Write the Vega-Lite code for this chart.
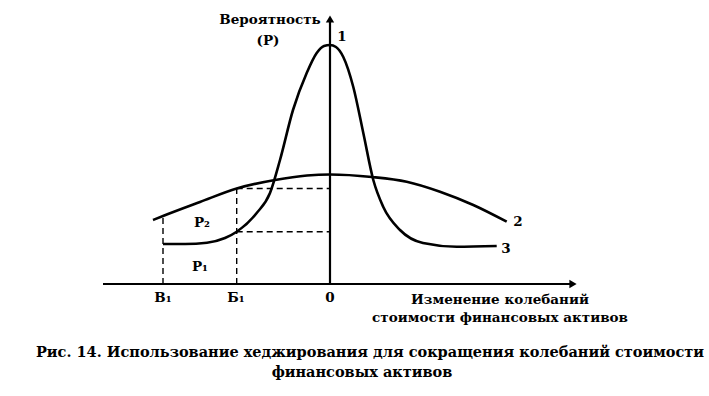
{
  "$schema": "https://vega.github.io/schema/vega-lite/v6.json",
  "width": 709,
  "height": 396,
  "autosize": {"type": "fit", "contains": "padding"},
  "padding": 0,
  "background": "white",
  "config": {"view": {"stroke": null}},
  "datasets": {
    "curves": [
      {"curve": "2", "x": -17.7, "y": 6.4},
      {"curve": "2", "x": -16.7, "y": 6.8},
      {"curve": "2", "x": -13, "y": 8.2},
      {"curve": "2", "x": -9.33, "y": 9.55},
      {"curve": "2", "x": -5.5, "y": 10.4},
      {"curve": "2", "x": -2.3, "y": 10.85},
      {"curve": "2", "x": 0, "y": 10.95},
      {"curve": "2", "x": 4.2, "y": 10.7},
      {"curve": "2", "x": 7.67, "y": 10.23},
      {"curve": "2", "x": 11, "y": 9.23},
      {"curve": "2", "x": 14.33, "y": 7.9},
      {"curve": "2", "x": 17.67, "y": 6.23},
      {"curve": "3", "x": -16.7, "y": 4.0},
      {"curve": "3", "x": -14.5, "y": 4.0},
      {"curve": "3", "x": -12.3, "y": 4.13},
      {"curve": "3", "x": -10.5, "y": 4.6},
      {"curve": "3", "x": -9.33, "y": 5.23},
      {"curve": "3", "x": -7.33, "y": 7.1},
      {"curve": "3", "x": -6, "y": 9.1},
      {"curve": "3", "x": -5, "y": 12.4},
      {"curve": "3", "x": -3.7, "y": 17.4},
      {"curve": "3", "x": -2.33, "y": 21.1},
      {"curve": "3", "x": -1.33, "y": 23.1},
      {"curve": "3", "x": -0.6, "y": 23.8},
      {"curve": "3", "x": 0, "y": 23.9},
      {"curve": "3", "x": 0.6, "y": 23.7},
      {"curve": "3", "x": 1.33, "y": 22.7},
      {"curve": "3", "x": 2.33, "y": 19.7},
      {"curve": "3", "x": 3.33, "y": 15.1},
      {"curve": "3", "x": 4.33, "y": 10.4},
      {"curve": "3", "x": 5.33, "y": 7.7},
      {"curve": "3", "x": 7, "y": 5.4},
      {"curve": "3", "x": 9.3, "y": 4.1},
      {"curve": "3", "x": 12.67, "y": 3.73},
      {"curve": "3", "x": 16.67, "y": 3.8}
    ],
    "axes": [
      {"x": -22.7, "x2": 24.0, "y": 0, "y2": 0},
      {"x": 0, "x2": 0, "y": 0, "y2": 26.2}
    ],
    "guides": [
      {"x": -16.7, "x2": -16.7, "y": 0, "y2": 6.8},
      {"x": -9.33, "x2": -9.33, "y": 0, "y2": 9.55},
      {"x": -9.33, "x2": 0, "y": 9.55, "y2": 9.55},
      {"x": -9.33, "x2": 0, "y": 5.23, "y2": 5.23}
    ],
    "arrowsRight": [{"x": 24.3, "y": 0}],
    "arrowsUp": [{"x": 0, "y": 26.5}],
    "labels": [
      {"text": "Вероятность", "x": -6, "y": 26.4},
      {"text": "(Р)", "x": -6.2, "y": 24.3},
      {"text": "1", "x": 1.2, "y": 24.7},
      {"text": "2", "x": 18.8, "y": 6.2},
      {"text": "3", "x": 17.6, "y": 3.5},
      {"text": "P₂", "x": -12.8, "y": 6.1},
      {"text": "P₁", "x": -13.0, "y": 1.7},
      {"text": "В₁", "x": -16.7, "y": -1.4},
      {"text": "Б₁", "x": -9.4, "y": -1.4},
      {"text": "0", "x": 0, "y": -1.4},
      {"text": "Изменение колебаний", "x": 17.0, "y": -1.6},
      {"text": "стоимости финансовых активов", "x": 17.0, "y": -3.4}
    ],
    "caption": [
      {"text": "Рис. 14. Использование хеджирования для сокращения колебаний стоимости", "x": 4.0, "y": -6.9},
      {"text": "финансовых активов", "x": 3.2, "y": -8.9}
    ]
  },
  "layer": [
    {
      "data": {"name": "axes"},
      "mark": {"type": "rule", "color": "black", "strokeWidth": 2.2},
      "encoding": {
        "x": {"field": "x", "type": "quantitative", "scale": {"domain": [-33, 37.9], "nice": false, "zero": false}, "axis": null},
        "x2": {"field": "x2"},
        "y": {"field": "y", "type": "quantitative", "scale": {"domain": [-11.2, 28.4], "nice": false, "zero": false}, "axis": null},
        "y2": {"field": "y2"}
      }
    },
    {
      "data": {"name": "guides"},
      "mark": {"type": "rule", "color": "black", "strokeWidth": 1.4, "strokeDash": [6, 4]},
      "encoding": {
        "x": {"field": "x", "type": "quantitative"},
        "x2": {"field": "x2"},
        "y": {"field": "y", "type": "quantitative"},
        "y2": {"field": "y2"}
      }
    },
    {
      "data": {"name": "curves"},
      "mark": {"type": "line", "color": "black", "strokeWidth": 2.6, "interpolate": "monotone"},
      "encoding": {
        "x": {"field": "x", "type": "quantitative"},
        "y": {"field": "y", "type": "quantitative"},
        "detail": {"field": "curve"}
      }
    },
    {
      "data": {"name": "arrowsRight"},
      "mark": {"type": "point", "shape": "triangle-right", "filled": true, "color": "black", "size": 70, "opacity": 1},
      "encoding": {
        "x": {"field": "x", "type": "quantitative"},
        "y": {"field": "y", "type": "quantitative"}
      }
    },
    {
      "data": {"name": "arrowsUp"},
      "mark": {"type": "point", "shape": "triangle-up", "filled": true, "color": "black", "size": 70, "opacity": 1},
      "encoding": {
        "x": {"field": "x", "type": "quantitative"},
        "y": {"field": "y", "type": "quantitative"}
      }
    },
    {
      "data": {"name": "labels"},
      "mark": {"type": "text", "font": "DejaVu Serif", "fontWeight": "bold", "fontSize": 13.5, "color": "black", "align": "center", "baseline": "middle"},
      "encoding": {
        "x": {"field": "x", "type": "quantitative"},
        "y": {"field": "y", "type": "quantitative"},
        "text": {"field": "text"}
      }
    },
    {
      "data": {"name": "caption"},
      "mark": {"type": "text", "font": "DejaVu Serif", "fontWeight": "bold", "fontSize": 14.5, "color": "black", "align": "center", "baseline": "middle"},
      "encoding": {
        "x": {"field": "x", "type": "quantitative"},
        "y": {"field": "y", "type": "quantitative"},
        "text": {"field": "text"}
      }
    }
  ]
}
